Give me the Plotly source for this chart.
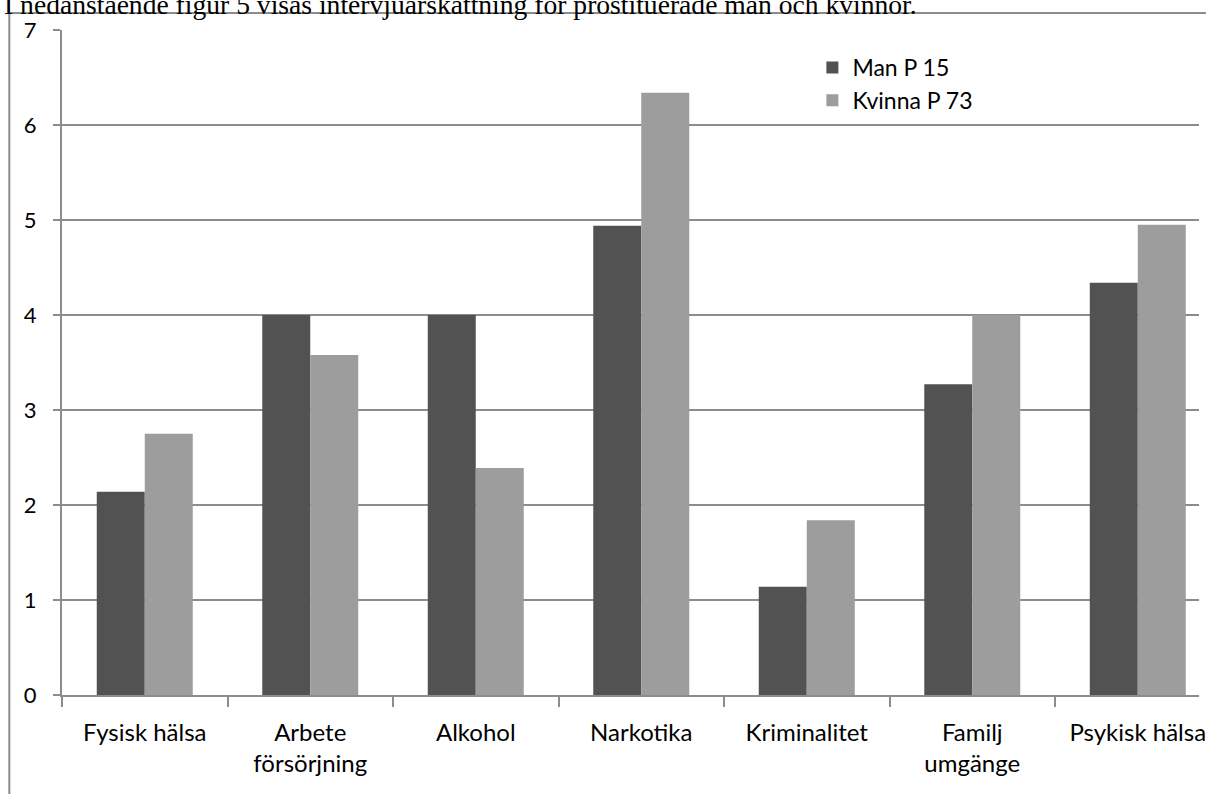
import plotly.graph_objects as go

categories = ["Fysisk hälsa", "Arbete<br>försörjning", "Alkohol", "Narkotika",
              "Kriminalitet", "Familj<br>umgänge", "Psykisk hälsa"]
man_values = [2.14, 4.0, 4.0, 4.94, 1.14, 3.27, 4.34]
kvinna_values = [2.75, 3.58, 2.39, 6.34, 1.84, 4.0, 4.95]
series_names = ["Man P 15", "Kvinna P 73"]
y_ticks = [0, 1, 2, 3, 4, 5, 6, 7]
intro_text = "I nedanstående figur 5 visas intervjuarskattning för prostituerade män och kvinnor."

W, H = 1206, 794
L, R, T, B = 62, 0, 30, 99
pw, ph = W - L - R, H - T - B

def px_x(p):
    return (p - L) / pw

def px_y(p):
    return (H - B - p) / ph

font_family = "Lato, 'Liberation Sans', sans-serif"

fig = go.Figure()
fig.add_trace(go.Bar(x=categories, y=man_values, name=series_names[0],
                     marker=dict(color="#525252", line=dict(width=0))))
fig.add_trace(go.Bar(x=categories, y=kvinna_values, name=series_names[1],
                     marker=dict(color="#9d9d9d", line=dict(width=0))))

fig.update_layout(
    width=W, height=H,
    margin=dict(l=L, r=R, t=T, b=B, pad=0),
    paper_bgcolor="white", plot_bgcolor="white",
    barmode="group", bargap=0.42, bargroupgap=0,
    font=dict(family=font_family, size=24, color="#000"),
    legend=dict(x=px_x(817), y=px_y(46), xanchor="left", yanchor="top",
                bgcolor="rgba(0,0,0,0)", font=dict(size=23),
                itemwidth=30, tracegroupgap=0),
    showlegend=True,
)

fig.update_xaxes(
    range=[-0.5, 6.37],
    showgrid=False, showline=True, linecolor="#8c8c8c", linewidth=2,
    ticks="outside", tickson="boundaries", ticklen=10, tickcolor="#8c8c8c",
    tickwidth=1.5, tickfont=dict(size=24), ticklabelstandoff=15, fixedrange=True,
)
fig.update_yaxes(
    range=[0, 7], tickvals=y_ticks, showgrid=True, gridcolor="#8c8c8c", gridwidth=2,
    showline=True, linecolor="#8c8c8c", linewidth=2, zeroline=False,
    ticks="outside", ticklen=7, tickcolor="#8c8c8c", tickwidth=2,
    tickfont=dict(size=22), ticklabelstandoff=12, fixedrange=True,
)

# outer chart border (left and top edges visible)
fig.add_shape(type="line", xref="paper", yref="paper",
              x0=px_x(9), x1=px_x(9), y0=px_y(13), y1=px_y(820),
              line=dict(color="#8c8c8c", width=2))
fig.add_shape(type="line", xref="paper", yref="paper",
              x0=px_x(9), x1=px_x(1230), y0=px_y(13), y1=px_y(13),
              line=dict(color="#8c8c8c", width=2))

# cut-off text line above the chart
fig.add_annotation(text=intro_text, xref="paper", yref="paper",
                   x=px_x(2), y=px_y(4), xanchor="left", yanchor="middle",
                   showarrow=False,
                   font=dict(family="'Liberation Serif', 'Times New Roman', serif",
                             size=27.6, color="#000"))

fig.write_html("out.html", config={"displayModeBar": False})
